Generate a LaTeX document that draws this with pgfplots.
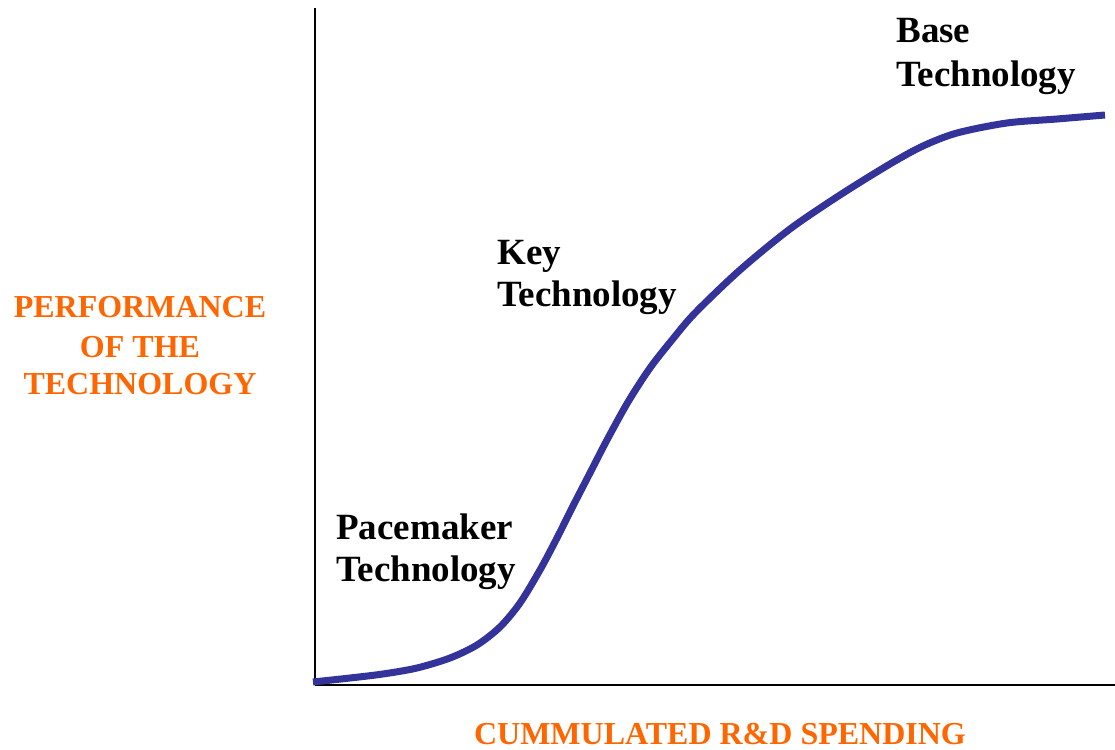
\documentclass[border=0pt]{standalone}
\usepackage{fontspec}
\setmainfont{Liberation Serif}
\usepackage{pgfplots}
\pgfplotsset{compat=1.18}
\definecolor{curveblue}{RGB}{51,51,153}
\definecolor{labelorange}{RGB}{255,102,0}

\begin{document}
\begin{tikzpicture}
  \begin{axis}[
      scale only axis,
      width=400pt, height=338.5pt,
      xmin=0, xmax=800, ymin=0, ymax=677,
      axis lines=left,
      axis line style={-, line width=1pt, black},
      xtick=\empty, ytick=\empty,
      clip=false,
    ]
    % S-curve of technology performance
    \addplot[curveblue, line width=3.5pt, smooth] coordinates {
      (-2,3) (35,7) (68,11) (102,17) (135,27) (162,40) (185,58)
      (205,82) (225,115) (242,147) (258,179) (275,212) (292,245)
      (313,283) (335,317) (357,345) (380,372) (425,415) (475,456)
      (525,490) (575,521) (608,539) (642,552) (692,562) (742,566)
      (790,570)
    };
    \begin{scope}[every node/.style={font=\fontsize{18.5}{22}\selectfont\bfseries, inner sep=0pt, anchor=base west}]
      \node at (axis cs:581,642) {Base};
      \node at (axis cs:581,598) {Technology};
      \node at (axis cs:182,420) {Key};
      \node at (axis cs:182,378) {Technology};
      \node at (axis cs:21,145) {Pacemaker};
      \node at (axis cs:21,103) {Technology};
    \end{scope}
    \begin{scope}[every node/.style={font=\fontsize{16}{19}\selectfont\bfseries, text=labelorange, inner sep=0pt, anchor=base}]
      \node at (axis cs:-175,367) {PERFORMANCE};
      \node at (axis cs:-175,327) {OF THE};
      \node at (axis cs:-175,290) {TECHNOLOGY};
      \node at (axis cs:405,-60) {CUMMULATED R\&D SPENDING};
    \end{scope}
    \coordinate (TL) at (axis cs:-315,685);
    \coordinate (BR) at (axis cs:800,-65);
  \end{axis}
  \pgfresetboundingbox
  \path (TL) rectangle (BR);
\end{tikzpicture}
\end{document}
